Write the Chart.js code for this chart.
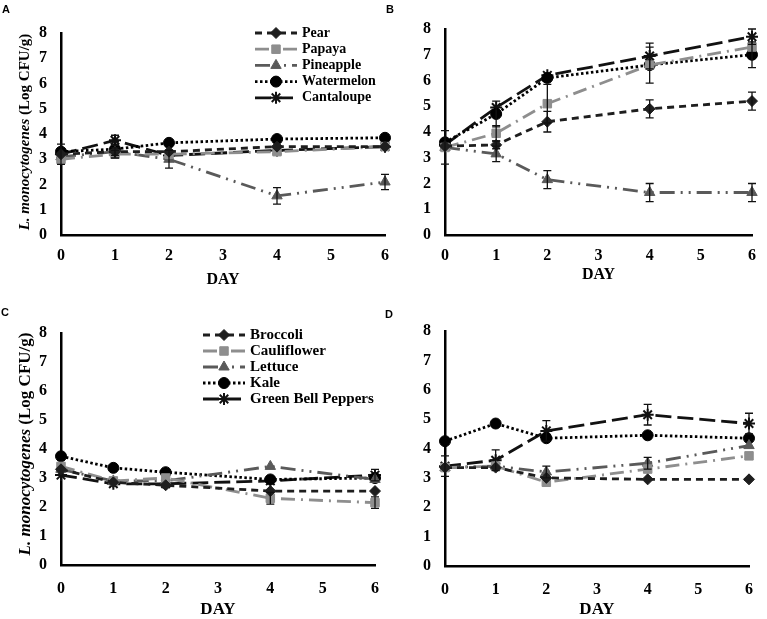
<!DOCTYPE html>
<html>
<head>
<meta charset="utf-8">
<script src="https://cdn.jsdelivr.net/npm/chart.js@4.4.1/dist/chart.umd.min.js"></script>
<style>
  body { margin: 0; background: #fff; width: 767px; height: 619px; position: relative; overflow: hidden; }
  canvas { position: absolute; }
  .tag { position: absolute; font: bold 11px "Liberation Sans", Arial, sans-serif; color: #000; }
</style>
</head>
<body>
<canvas id="chartA" style="left:0;top:0;width:400px;height:300px"></canvas>
<canvas id="chartB" style="left:383px;top:0;width:384px;height:300px"></canvas>
<canvas id="chartC" style="left:0;top:300px;width:400px;height:319px"></canvas>
<canvas id="chartD" style="left:383px;top:300px;width:384px;height:319px"></canvas>
<div class="tag" style="left:2px;top:3px">A</div>
<div class="tag" style="left:386px;top:3px">B</div>
<div class="tag" style="left:1px;top:306px">C</div>
<div class="tag" style="left:385px;top:308px">D</div>
<script>
// sampling days and axis ticks
const days = [0, 1, 2, 4, 6];
const xTickValues = [0, 1, 2, 3, 4, 5, 6];
const yTickValues = [0, 1, 2, 3, 4, 5, 6, 7, 8];

const fruitNames = ['Pear', 'Papaya', 'Pineapple', 'Watermelon', 'Cantaloupe'];
const vegNames = ['Broccoli', 'Cauliflower', 'Lettuce', 'Kale', 'Green Bell Peppers'];

// Panel A
const aPear = [3.2, 3.3, 3.3, 3.5, 3.5];
const aPapaya = [3.0, 3.2, 3.2, 3.3, 3.5];
const aPineapple = [3.1, 3.3, 3.0, 1.55, 2.1];
const aWatermelon = [3.3, 3.4, 3.65, 3.8, 3.85];
const aCantaloupe = [3.2, 3.75, 3.15, 3.35, 3.5];
const aPearErr = [0.1, 0.1, 0.1, 0.1, 0.1];
const aPapayaErr = [0.1, 0.15, 0.1, 0.1, 0.1];
const aPineappleErr = [0.1, 0.15, 0.35, 0.33, 0.3];
const aWatermelonErr = [0.1, 0.1, 0.1, 0.1, 0.1];
const aCantaloupeErr = [0.4, 0.2, 0.1, 0.1, 0.1];

// Panel B
const bPear = [3.45, 3.5, 4.4, 4.9, 5.2];
const bPapaya = [3.4, 3.95, 5.1, 6.6, 7.3];
const bPineapple = [3.4, 3.15, 2.15, 1.65, 1.65];
const bWatermelon = [3.6, 4.7, 6.1, 6.6, 7.0];
const bCantaloupe = [3.5, 4.95, 6.2, 6.95, 7.7];
const bPearErr = [0.1, 0.15, 0.4, 0.35, 0.35];
const bPapayaErr = [0.65, 0.3, 0.75, 0.1, 0.1];
const bPineappleErr = [0.1, 0.3, 0.35, 0.35, 0.35];
const bWatermelonErr = [0.1, 0.5, 0.1, 0.7, 0.5];
const bCantaloupeErr = [0.1, 0.1, 0.1, 0.5, 0.3];

// Panel C
const cBroccoli = [3.3, 2.85, 2.75, 2.55, 2.55];
const cCauliflower = [3.4, 2.9, 3.0, 2.3, 2.15];
const cLettuce = [3.3, 2.9, 2.9, 3.4, 2.95];
const cKale = [3.75, 3.35, 3.2, 2.95, 3.0];
const cPeppers = [3.1, 2.8, 2.8, 2.9, 3.1];
const cBroccoliErr = [0.1, 0.1, 0.1, 0.1, 0.1];
const cCauliflowerErr = [0.1, 0.1, 0.1, 0.2, 0.2];
const cLettuceErr = [0.1, 0.1, 0.1, 0.1, 0.1];
const cKaleErr = [0.1, 0.1, 0.1, 0.1, 0.1];
const cPeppersErr = [0.1, 0.1, 0.1, 0.1, 0.2];

// Panel D
const dBroccoli = [3.35, 3.35, 3.0, 2.95, 2.95];
const dCauliflower = [3.35, 3.4, 2.85, 3.3, 3.75];
const dLettuce = [3.35, 3.4, 3.2, 3.5, 4.1];
const dKale = [4.25, 4.85, 4.35, 4.45, 4.35];
const dPeppers = [3.4, 3.6, 4.6, 5.15, 4.85];
const dBroccoliErr = [0.1, 0.1, 0.1, 0.1, 0.1];
const dCauliflowerErr = [0.1, 0.1, 0.1, 0.1, 0.1];
const dLettuceErr = [0.1, 0.1, 0.2, 0.2, 0.1];
const dKaleErr = [0.1, 0.1, 0.1, 0.1, 0.1];
const dPeppersErr = [0.35, 0.35, 0.35, 0.35, 0.35];

// one style per series slot, same for fruit and vegetable panels
const seriesStyle = [
    { color: '#1e1e1e', dash: [7, 5], point: 'rectRot', radius: 5.5 },
    { color: '#8e8e8e', dash: [14, 6, 2, 6], point: 'rect', radius: 6 },
    { color: '#5a5a5a', dash: [15, 6, 2, 6, 2, 6], point: 'triangle', radius: 6 },
    { color: '#000000', dash: [2.5, 2.5], point: 'circle', radius: 5.5 },
    { color: '#111111', dash: [16, 6], point: 'star', radius: 6 }
];

const serif = '"Liberation Serif", "Times New Roman", serif';

function makeDatasets(names, values, errors) {
    return names.map((name, i) => {
        const st = seriesStyle[i];
        return {
            label: name,
            data: days.map((d, j) => ({ x: d, y: values[i][j] })),
            err: errors[i],
            borderColor: st.color,
            backgroundColor: st.color,
            borderWidth: 2.8,
            borderDash: st.dash,
            pointStyle: st.point,
            pointRadius: st.radius,
            pointBackgroundColor: st.color,
            pointBorderColor: st.color,
            pointBorderWidth: st.point === 'star' ? 2 : 1,
            tension: 0,
            clip: false
        };
    });
}

// vertical error bars read from each dataset's err array
const errorBars = {
    id: 'errorBars',
    afterDatasetsDraw(chart) {
        const ctx = chart.ctx, xs = chart.scales.x, ys = chart.scales.y;
        ctx.save();
        ctx.strokeStyle = '#111';
        ctx.lineWidth = 1.3;
        ctx.setLineDash([]);
        chart.data.datasets.forEach(ds => {
            ds.data.forEach((p, i) => {
                const e = ds.err[i];
                if (!e || e < 0.15) return;
                const px = xs.getPixelForValue(p.x);
                const top = ys.getPixelForValue(p.y + e);
                const bot = ys.getPixelForValue(p.y - e);
                ctx.beginPath();
                ctx.moveTo(px, top); ctx.lineTo(px, bot);
                ctx.moveTo(px - 4, top); ctx.lineTo(px + 4, top);
                ctx.moveTo(px - 4, bot); ctx.lineTo(px + 4, bot);
                ctx.stroke();
            });
        });
        ctx.restore();
    }
};

// legend drawn as line sample + marker + label, like the spreadsheet legend
const lineLegend = {
    id: 'lineLegend',
    afterDraw(chart, args, opts) {
        if (!opts.show) return;
        const ctx = chart.ctx;
        chart.data.datasets.forEach((ds, i) => {
            const yy = opts.y + i * opts.gap;
            ctx.save();
            ctx.strokeStyle = ds.borderColor;
            ctx.lineWidth = ds.borderWidth;
            ctx.setLineDash(ds.borderDash);
            ctx.beginPath();
            ctx.moveTo(opts.x, yy);
            ctx.lineTo(opts.x + opts.len, yy);
            ctx.stroke();
            ctx.setLineDash([]);
            ctx.fillStyle = ds.pointBackgroundColor;
            ctx.strokeStyle = ds.pointBorderColor;
            ctx.lineWidth = ds.pointBorderWidth;
            Chart.helpers.drawPoint(ctx, {
                pointStyle: ds.pointStyle, radius: ds.pointRadius, rotation: 0, borderWidth: ds.pointBorderWidth
            }, opts.x + opts.len / 2, yy);
            ctx.fillStyle = '#000';
            ctx.font = opts.font;
            ctx.textBaseline = 'middle';
            ctx.fillText(ds.label, opts.x + opts.len + opts.pad, yy);
            ctx.restore();
        });
    }
};

// y title with italic species name
const yTitle = {
    id: 'yTitle',
    afterDraw(chart, args, opts) {
        if (!opts.show) return;
        const ctx = chart.ctx, area = chart.chartArea;
        const italicPart = 'L. monocytogenes ';
        const plainPart = '(Log CFU/g)';
        ctx.save();
        ctx.fillStyle = '#000';
        ctx.textBaseline = 'middle';
        const fi = 'italic bold ' + opts.size + 'px ' + serif;
        const fp = 'bold ' + opts.size + 'px ' + serif;
        ctx.font = fi; const w1 = ctx.measureText(italicPart).width;
        ctx.font = fp; const w2 = ctx.measureText(plainPart).width;
        ctx.translate(opts.x, (area.top + area.bottom) / 2 + opts.shift);
        ctx.rotate(-Math.PI / 2);
        ctx.font = fi; ctx.fillText(italicPart, -(w1 + w2) / 2, 0);
        ctx.font = fp; ctx.fillText(plainPart, -(w1 + w2) / 2 + w1, 0);
        ctx.restore();
    }
};

function makeChart(id, cfg) {
    const el = document.getElementById(id);
    el.width = cfg.w; el.height = cfg.h;
    return new Chart(el, {
        type: 'line',
        data: { datasets: cfg.datasets },
        plugins: [errorBars, lineLegend, yTitle],
        options: {
            responsive: false,
            animation: false,
            devicePixelRatio: 1,
            layout: { padding: { top: cfg.top, right: cfg.right, left: 0, bottom: 0 } },
            plugins: {
                legend: { display: false },
                tooltip: { enabled: false },
                lineLegend: cfg.legend,
                yTitle: cfg.yTitle
            },
            scales: {
                x: {
                    type: 'linear', min: 0, max: 6,
                    afterFit: s => { s.height = cfg.xHeight; },
                    afterBuildTicks: s => { s.ticks = xTickValues.map(v => ({ value: v })); },
                    grid: { display: false, drawTicks: false },
                    border: { display: true, color: '#000', width: 2.5 },
                    ticks: { color: '#000', padding: cfg.tickPad, font: { family: serif, size: 16, weight: 'bold' } },
                    title: {
                        display: true, text: 'DAY', color: '#000',
                        padding: { top: 0, bottom: cfg.titlePad },
                        font: { family: serif, size: cfg.daySize, weight: 'bold', lineHeight: 1 }
                    }
                },
                y: {
                    min: 0, max: 8,
                    afterFit: s => { s.width = cfg.left; },
                    afterBuildTicks: s => { s.ticks = yTickValues.map(v => ({ value: v })); },
                    grid: { display: false, drawTicks: false },
                    border: { display: true, color: '#000', width: 2.5 },
                    ticks: { color: '#000', padding: 14, font: { family: serif, size: 16, weight: 'bold' } }
                }
            }
        }
    });
}

makeChart('chartA', {
    w: 400, h: 300, top: 33, right: 14, left: 61, xHeight: 65, tickPad: 11, titlePad: 12, daySize: 16,
    datasets: makeDatasets(fruitNames,
        [aPear, aPapaya, aPineapple, aWatermelon, aCantaloupe],
        [aPearErr, aPapayaErr, aPineappleErr, aWatermelonErr, aCantaloupeErr]),
    legend: { show: true, x: 255, y: 33, gap: 16.2, len: 42, pad: 5, font: 'bold 14px ' + serif },
    yTitle: { show: true, x: 25, size: 15, shift: -2 }
});

makeChart('chartB', {
    w: 384, h: 300, top: 29, right: 13, left: 62, xHeight: 65, tickPad: 11, titlePad: 17, daySize: 16,
    datasets: makeDatasets(fruitNames,
        [bPear, bPapaya, bPineapple, bWatermelon, bCantaloupe],
        [bPearErr, bPapayaErr, bPineappleErr, bWatermelonErr, bCantaloupeErr]),
    legend: { show: false },
    yTitle: { show: false }
});

makeChart('chartC', {
    w: 400, h: 319, top: 33, right: 25, left: 61, xHeight: 54, tickPad: 14, titlePad: 1, daySize: 17,
    datasets: makeDatasets(vegNames,
        [cBroccoli, cCauliflower, cLettuce, cKale, cPeppers],
        [cBroccoliErr, cCauliflowerErr, cLettuceErr, cKaleErr, cPeppersErr]),
    legend: { show: true, x: 203, y: 35, gap: 16, len: 42, pad: 5, font: 'bold 15px ' + serif },
    yTitle: { show: true, x: 26, size: 17, shift: -5 }
});

makeChart('chartD', {
    w: 384, h: 319, top: 31, right: 7, left: 62, xHeight: 53, tickPad: 14, titlePad: 1, daySize: 17,
    datasets: makeDatasets(vegNames,
        [dBroccoli, dCauliflower, dLettuce, dKale, dPeppers],
        [dBroccoliErr, dCauliflowerErr, dLettuceErr, dKaleErr, dPeppersErr]),
    legend: { show: false },
    yTitle: { show: false }
});
</script>
</body>
</html>
